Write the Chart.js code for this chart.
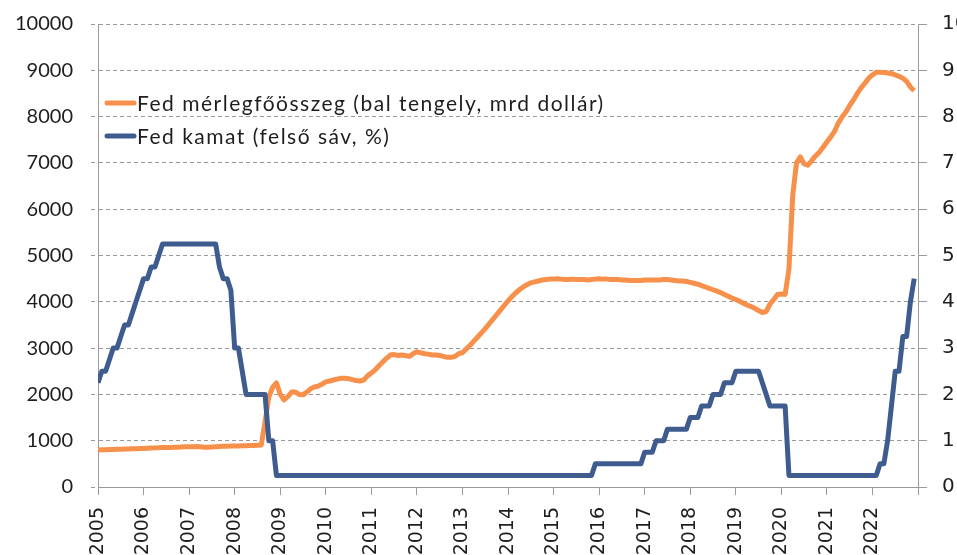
<!DOCTYPE html>
<html lang="hu">
<head>
<meta charset="utf-8">
<title>Fed mérlegfőösszeg és kamat</title>
<script src="https://cdn.jsdelivr.net/npm/chart.js@4.4.1/dist/chart.umd.min.js"></script>
<style>
  html, body { margin: 0; padding: 0; background: #fff; overflow: hidden; }
  canvas { display: block; }
</style>
</head>
<body>
<canvas id="chartFed" width="957" height="555"></canvas>
<script>
// Havi adatok, 2005 január - 2022 december
const kezdoEv = 2005;
const utolsoEv = 2023;

const feliratok = [
  'Fed mérlegfőösszeg (bal tengely, mrd dollár)',
  'Fed kamat (felső sáv, %)'
];

// Fed mérlegfőösszeg, mrd dollár (soronként egy év)
const merlegfoosszeg = [
  800, 805, 805, 810, 810, 815, 815, 820, 820, 825, 825, 830,
  830, 835, 840, 845, 850, 855, 855, 855, 860, 860, 865, 870,
  870, 870, 875, 870, 860, 860, 865, 870, 875, 880, 880, 885,
  885, 885, 890, 890, 895, 895, 900, 905, 1400, 1950, 2150, 2250,
  2000, 1880, 1950, 2050, 2050, 2000, 1990, 2050, 2120, 2160, 2180, 2220,
  2270, 2290, 2310, 2330, 2350, 2350, 2340, 2320, 2300, 2290, 2310, 2400,
  2460, 2530, 2620, 2700, 2780, 2850, 2860, 2840, 2850, 2840, 2820, 2880,
  2920, 2900, 2880, 2870, 2850, 2850, 2840, 2820, 2800, 2800, 2820, 2880,
  2900, 2980, 3060, 3150, 3240, 3330, 3420, 3520, 3620, 3720, 3820, 3920,
  4020, 4110, 4190, 4260, 4320, 4370, 4410, 4430, 4450, 4470, 4480, 4490,
  4490, 4500, 4490, 4480, 4480, 4490, 4480, 4480, 4480, 4470, 4480, 4490,
  4500, 4490, 4490, 4480, 4480, 4480, 4470, 4470, 4460, 4460, 4460, 4460,
  4470, 4470, 4470, 4470, 4470, 4480, 4480, 4470, 4460, 4450, 4450, 4440,
  4420, 4400, 4380, 4350, 4320, 4290, 4260, 4230, 4200, 4160, 4120, 4080,
  4050, 4010, 3970, 3930, 3900, 3860, 3810, 3770, 3790, 3950, 4050, 4160,
  4170, 4160, 4700, 6300, 7000, 7130, 6980, 6950, 7050, 7150, 7230, 7340,
  7450, 7560, 7680, 7860, 7990, 8100, 8240, 8360, 8500, 8620, 8720, 8830,
  8900, 8960, 8960, 8950, 8940, 8930, 8900, 8870, 8830, 8760, 8640, 8560
];

// Fed kamat, felső sáv, % (soronként egy év)
const fedKamat = [
  2.25, 2.5, 2.5, 2.75, 3.0, 3.0, 3.25, 3.5, 3.5, 3.75, 4.0, 4.25,
  4.5, 4.5, 4.75, 4.75, 5.0, 5.25, 5.25, 5.25, 5.25, 5.25, 5.25, 5.25,
  5.25, 5.25, 5.25, 5.25, 5.25, 5.25, 5.25, 5.25, 4.75, 4.5, 4.5, 4.25,
  3.0, 3.0, 2.5, 2.0, 2.0, 2.0, 2.0, 2.0, 2.0, 1.0, 1.0, 0.25,
  0.25, 0.25, 0.25, 0.25, 0.25, 0.25, 0.25, 0.25, 0.25, 0.25, 0.25, 0.25,
  0.25, 0.25, 0.25, 0.25, 0.25, 0.25, 0.25, 0.25, 0.25, 0.25, 0.25, 0.25,
  0.25, 0.25, 0.25, 0.25, 0.25, 0.25, 0.25, 0.25, 0.25, 0.25, 0.25, 0.25,
  0.25, 0.25, 0.25, 0.25, 0.25, 0.25, 0.25, 0.25, 0.25, 0.25, 0.25, 0.25,
  0.25, 0.25, 0.25, 0.25, 0.25, 0.25, 0.25, 0.25, 0.25, 0.25, 0.25, 0.25,
  0.25, 0.25, 0.25, 0.25, 0.25, 0.25, 0.25, 0.25, 0.25, 0.25, 0.25, 0.25,
  0.25, 0.25, 0.25, 0.25, 0.25, 0.25, 0.25, 0.25, 0.25, 0.25, 0.25, 0.5,
  0.5, 0.5, 0.5, 0.5, 0.5, 0.5, 0.5, 0.5, 0.5, 0.5, 0.5, 0.5,
  0.75, 0.75, 0.75, 1.0, 1.0, 1.0, 1.25, 1.25, 1.25, 1.25, 1.25, 1.25,
  1.5, 1.5, 1.5, 1.75, 1.75, 1.75, 2.0, 2.0, 2.0, 2.25, 2.25, 2.25,
  2.5, 2.5, 2.5, 2.5, 2.5, 2.5, 2.5, 2.25, 2.0, 1.75, 1.75, 1.75,
  1.75, 1.75, 0.25, 0.25, 0.25, 0.25, 0.25, 0.25, 0.25, 0.25, 0.25, 0.25,
  0.25, 0.25, 0.25, 0.25, 0.25, 0.25, 0.25, 0.25, 0.25, 0.25, 0.25, 0.25,
  0.25, 0.25, 0.5, 0.5, 1.0, 1.75, 2.5, 2.5, 3.25, 3.25, 4.0, 4.5
];

const narancs = '#F7904A';
const kek = '#3F5C8F';
const szurke = '#9a9a9a';

// havi pontok -> {x: év, y: érték}
function haviPontok(ertekek) {
  return ertekek.map((v, i) => ({ x: kezdoEv + i / 12, y: v }));
}

// függőleges tengely: fix szélesség, nincs extra felső/alsó hely
function fixSzelesseg(w) {
  return s => {
    s.width = w;
    s.paddingTop = 0;
    s.paddingBottom = 0;
  };
}

// Jelmagyarázat a rajzterületen belül, bal felül
const belsoJelmagyarazat = {
  id: 'belsoJelmagyarazat',
  afterDraw(chart) {
    const ctx = chart.ctx;
    const area = chart.chartArea;
    const sorok = [area.top + 79, area.top + 112];
    ctx.save();
    ctx.font = '21px Lato';
    ctx.letterSpacing = '1.5px';
    ctx.textBaseline = 'middle';
    ctx.textAlign = 'left';
    chart.data.datasets.forEach(ds => {
      const y = sorok[ds.sor];
      ctx.strokeStyle = ds.borderColor;
      ctx.lineWidth = 5;
      ctx.lineCap = 'round';
      ctx.beginPath();
      ctx.moveTo(area.left + 9, y);
      ctx.lineTo(area.left + 36, y);
      ctx.stroke();
      ctx.fillStyle = '#1e1e1e';
      ctx.fillText(ds.label, area.left + 39, y + 1);
    });
    ctx.restore();
  }
};

const ctx = document.getElementById('chartFed').getContext('2d');

new Chart(ctx, {
  type: 'line',
  data: {
    datasets: [
      {
        label: feliratok[1],
        sor: 1,
        data: haviPontok(fedKamat),
        yAxisID: 'y1',
        borderColor: kek,
        borderWidth: 5,
        pointRadius: 0,
        tension: 0,
        borderJoinStyle: 'round',
        order: 0
      },
      {
        label: feliratok[0],
        sor: 0,
        data: haviPontok(merlegfoosszeg),
        yAxisID: 'y',
        borderColor: narancs,
        borderWidth: 5,
        pointRadius: 0,
        tension: 0,
        borderJoinStyle: 'round',
        order: 1
      }
    ]
  },
  options: {
    responsive: false,
    animation: false,
    devicePixelRatio: 1,
    layout: { padding: { top: 24, left: 0, right: 0, bottom: 0 } },
    plugins: {
      legend: { display: false },
      tooltip: { enabled: false }
    },
    scales: {
      x: {
        type: 'linear',
        min: kezdoEv,
        max: utolsoEv,
        afterFit: s => { s.height = 68; },
        border: { display: true, color: szurke, width: 1 },
        grid: {
          display: true,
          drawOnChartArea: false,
          drawTicks: true,
          tickLength: 8,
          tickColor: szurke
        },
        ticks: {
          stepSize: 1,
          autoSkip: false,
          minRotation: 90,
          maxRotation: 90,
          padding: 12,
          color: '#1e1e1e',
          font: { family: 'DejaVu Sans', size: 19 },
          callback: v => (v === utolsoEv ? '' : String(v))
        }
      },
      y: {
        position: 'left',
        min: 0,
        max: 10000,
        afterFit: fixSzelesseg(98),
        border: { display: true, color: szurke, width: 1, dash: [4, 3] },
        grid: {
          display: true,
          drawOnChartArea: true,
          drawTicks: true,
          color: szurke,
          lineWidth: 1,
          tickLength: 7,
          tickColor: szurke,
          tickBorderDash: [4, 3]
        },
        ticks: {
          stepSize: 1000,
          padding: 18,
          color: '#1e1e1e',
          font: { family: 'Lato', size: 20 },
          callback: v => String(v)
        }
      },
      y1: {
        position: 'right',
        min: 0,
        max: 10,
        afterFit: fixSzelesseg(39),
        border: { display: true, color: szurke, width: 1 },
        grid: {
          display: true,
          drawOnChartArea: false,
          tickLength: 9,
          tickColor: szurke
        },
        ticks: {
          stepSize: 1,
          padding: 15,
          color: '#1e1e1e',
          font: { family: 'DejaVu Sans', size: 20 },
          callback: v => String(v)
        }
      }
    }
  },
  plugins: [belsoJelmagyarazat]
});
</script>
</body>
</html>
